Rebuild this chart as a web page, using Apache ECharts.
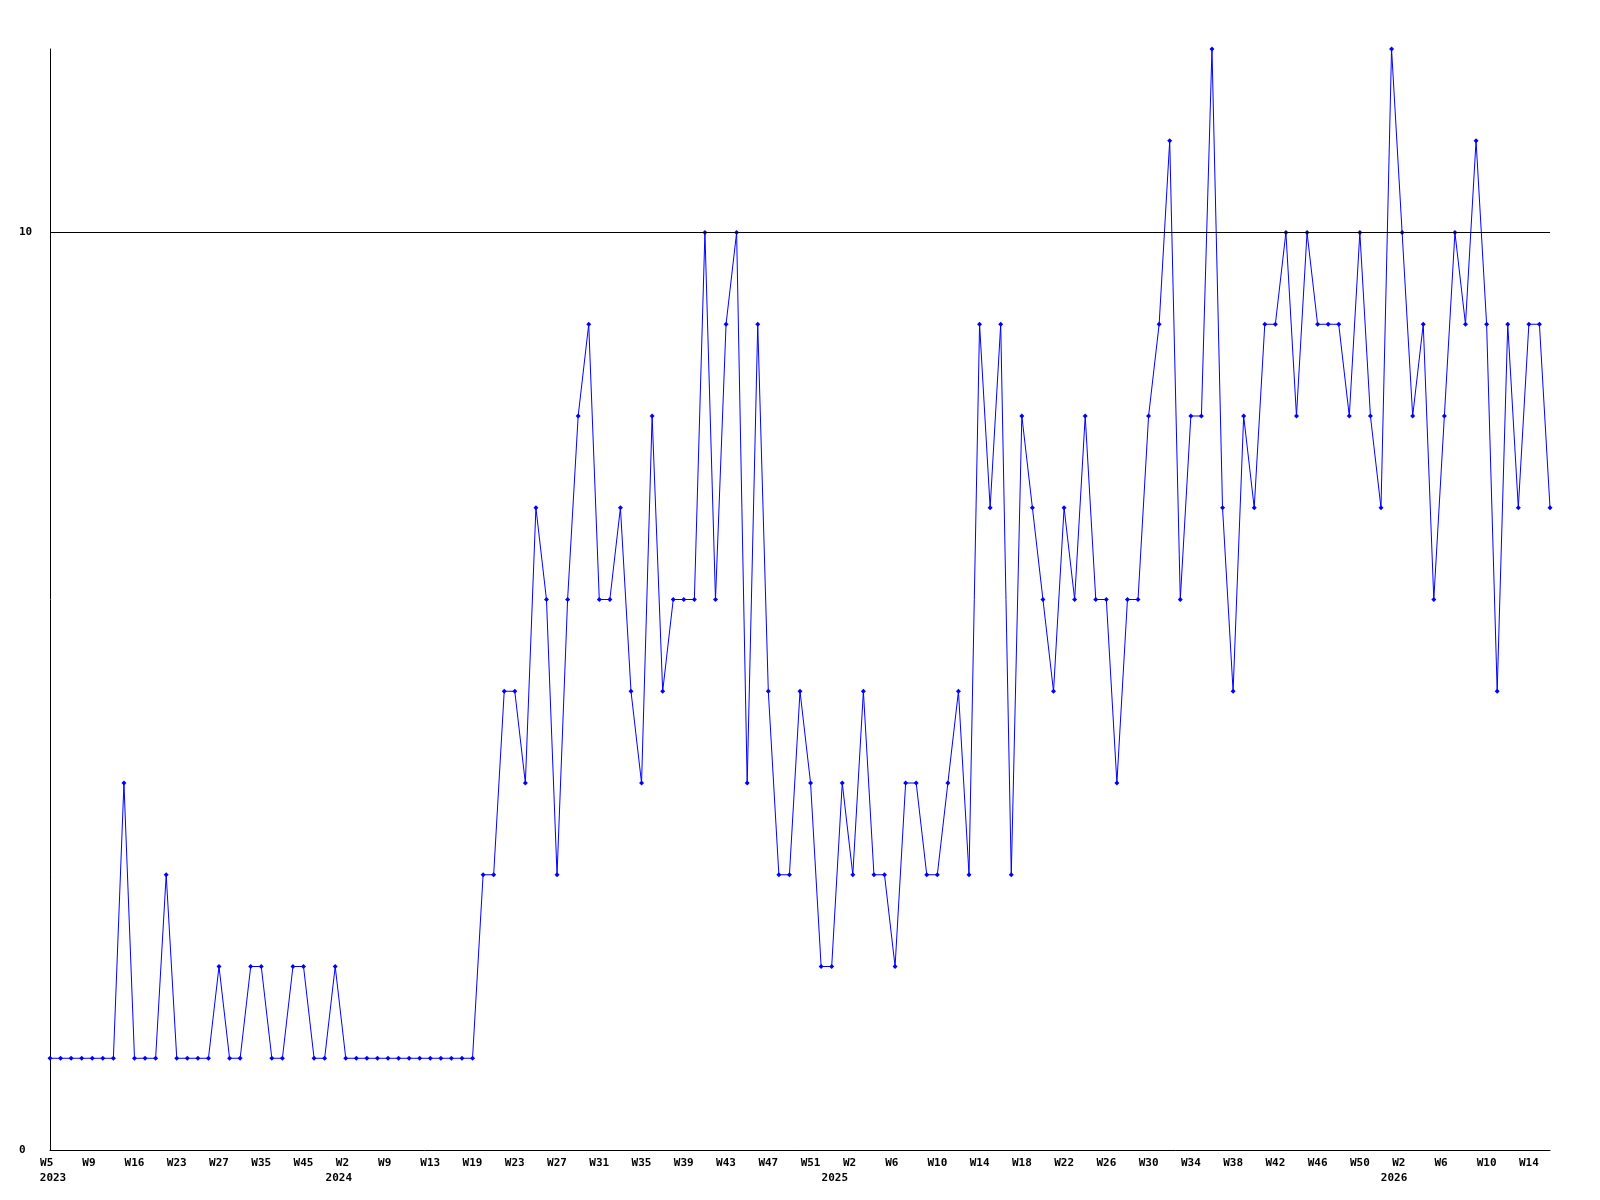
<!DOCTYPE html>
<html>
<head>
<meta charset="utf-8">
<script src="https://cdn.jsdelivr.net/npm/echarts@6/dist/echarts.min.js"></script>
<style>
html,body{margin:0;padding:0;background:#fff;}
#chart{width:1600px;height:1200px;}
</style>
</head>
<body>
<div id="chart"></div>
<script>
// Week numbers per year (category axis, in order)
const weeks2023 = [5,6,7,8,9,11,13,14,16,18,19,21,23,24,25,26,27,29,31,33,35,37,40,42,45,47,49,51];
const weeks2024 = [2,4,6,7,9,10,11,12,13,15,16,18,19,20,21,22,23,24,25,26,27,28,29,30,31,32,33,34,35,36,37,38,39,40,41,42,43,44,45,46,47,48,49,50,51,52,53];
const weeks2025 = [1,2,3,4,5,6,7,8,9,10,11,12,13,14,15,16,17,18,19,20,21,22,23,24,25,26,27,28,29,30,31,32,33,34,35,36,37,38,39,40,41,42,43,44,45,46,47,48,49,50,51,52];
const weeks2026 = [1,2,3,4,5,6,7,8,9,10,11,12,13,14,15,16];

// Weekly counts
const values = [
  1,1,1,1,1,1,1,4,1,1,
  1,3,1,1,1,1,2,1,1,2,
  2,1,1,2,2,1,1,2,1,1,
  1,1,1,1,1,1,1,1,1,1,
  1,3,3,5,5,4,7,6,3,6,
  8,9,6,6,7,5,4,8,5,6,
  6,6,10,6,9,10,4,9,5,3,
  3,5,4,2,2,4,3,5,3,3,
  2,4,4,3,3,4,5,3,9,7,
  9,3,8,7,6,5,7,6,8,6,
  6,4,6,6,8,9,11,6,8,8,
  12,7,5,8,7,9,9,10,8,10,
  9,9,9,8,10,8,7,12,10,8,
  9,6,8,10,9,11,9,5,9,7,
  9,9,7
];

const yTicks = [0, 10];
const referenceLevel = 10;

const categories = [];
[[2023, weeks2023],[2024, weeks2024],[2025, weeks2025],[2026, weeks2026]].forEach(([y, ws]) => {
  ws.forEach(w => categories.push(y + '-W' + w));
});

const chart = echarts.init(document.getElementById('chart'));
const font = '"DejaVu Sans Mono", monospace';
const yearStyle = (pl, pr) => ({
  fontFamily: font, fontWeight: 'bold', fontSize: 11, color: '#000',
  lineHeight: 15, padding: [0, pr, 0, pl]
});

chart.setOption({
  animation: false,
  backgroundColor: '#ffffff',
  grid: { left: 50, right: 50, top: 49, bottom: 50, containLabel: false },
  xAxis: {
    type: 'category',
    data: categories,
    boundaryGap: false,
    axisLine: { show: true, lineStyle: { color: '#000', width: 1 } },
    axisTick: { show: false },
    splitLine: { show: false },
    axisLabel: {
      interval: 3,
      margin: 6,
      color: '#000',
      fontFamily: font,
      fontWeight: 'bold',
      fontSize: 11,
      lineHeight: 15,
      rich: {
        y2023: yearStyle(6, 0),
        y2024: yearStyle(0, 14),
        y2025: yearStyle(0, 36),
        y2026: yearStyle(0, 16)
      },
      formatter: function (value, index) {
        const parts = value.split('-');
        let wk = parts[1];
        if (wk.length < 3) wk = wk + ' ';
        const prev = index >= 4 ? categories[index - 4].split('-')[0] : null;
        if (prev !== parts[0]) return wk + '\n{y' + parts[0] + '|' + parts[0] + '}';
        return wk;
      }
    }
  },
  yAxis: {
    type: 'value',
    min: 0,
    max: 12,
    interval: 10,
    axisLine: { show: true, lineStyle: { color: '#000', width: 1 } },
    axisTick: { show: false },
    splitLine: { show: false },
    axisLabel: {
      align: 'left',
      margin: 31,
      color: '#000',
      fontFamily: font,
      fontWeight: 'bold',
      fontSize: 11,
      formatter: function (v) { return yTicks.indexOf(v) >= 0 ? String(v) : ''; }
    }
  },
  series: [{
    type: 'line',
    data: values,
    showAllSymbol: true,
    symbol: 'diamond',
    symbolSize: 5,
    lineStyle: { color: '#0000ff', width: 1 },
    itemStyle: { color: '#0000ff' },
    markLine: {
      silent: true,
      symbol: ['none', 'none'],
      label: { show: false },
      lineStyle: { color: '#000', width: 1, type: 'solid' },
      data: [{ yAxis: referenceLevel }]
    }
  }]
});
</script>
</body>
</html>
